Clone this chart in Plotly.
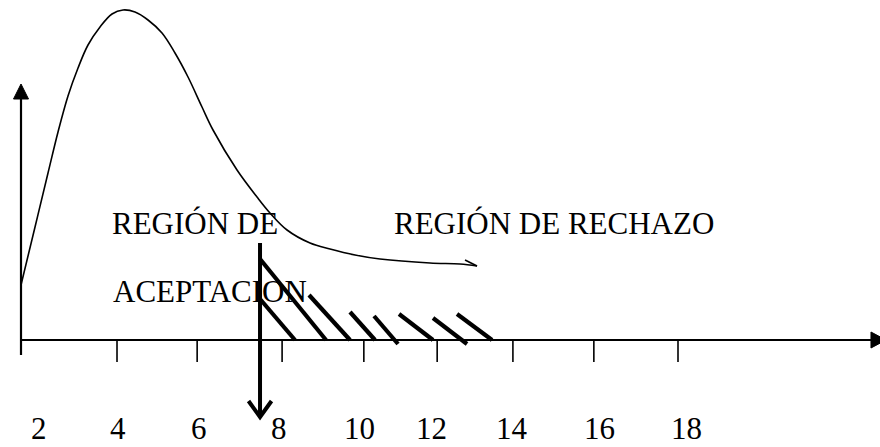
import plotly.graph_objects as go

# ---- data (x in scale units, y in density units, axis at y=0)
curve_x = [1.604, 1.954, 2.278, 2.528, 2.777, 3.027, 3.276, 3.576, 3.875, 4.150,
           4.449, 4.774, 5.123, 5.447, 5.772, 6.121, 6.396, 6.995, 7.494,
           7.818, 8.243, 8.817, 9.316, 9.940, 10.564, 11.811, 12.560, 12.984]
curve_y = [0.055, 0.113, 0.167, 0.208, 0.244, 0.272, 0.295, 0.313, 0.326, 0.330,
           0.328, 0.320, 0.307, 0.287, 0.263, 0.233, 0.210, 0.170, 0.143,
           0.127, 0.110, 0.097, 0.091, 0.085, 0.081, 0.077, 0.076, 0.074]
hook_x = [12.685, 12.984]
hook_y = [0.080, 0.074]

hatch_x0 = [7.569, 7.569, 8.792, 9.815, 10.414, 11.038, 11.886, 12.485]
hatch_y0 = [0.081, 0.041, 0.045, 0.028, 0.024, 0.026, 0.022, 0.026]
hatch_x1 = [9.216, 8.442, 9.815, 10.439, 11.013, 11.886, 12.735, 13.359]
hatch_y1 = [0.000, 0.000, 0.000, 0.000, -0.004, 0.000, -0.004, 0.000]

critical_x = 7.569
critical_top = 0.097
critical_bottom = -0.077

tick_pos = [4.0, 6.0, 8.12, 10.16, 11.99, 13.88, 15.90, 18.0]
tick_labels = ["2", "4", "6", "8", "10", "12", "14", "16", "18"]
label_pos = [2.05, 4.02, 6.05, 8.04, 10.06, 11.86, 13.86, 16.05, 18.22]

origin_x = 1.604
axis_end_x = 23.19
axis_top_y = 0.256
axis_bottom_y = -0.015

# ---- geometry helpers (pixel scale of the canvas)
X0, X1 = 1.080, 23.041
Y0, Y1 = -0.107, 0.340
W, H = 880, 447
ux = (X1 - X0) / W   # x units per pixel
uy = (Y1 - Y0) / H   # y units per pixel

FONT = "Liberation Serif, Times New Roman, serif"
BLACK = "#000000"

fig = go.Figure()

def seg_trace(xs0, ys0, xs1, ys1, width):
    xs, ys = [], []
    for a, b, c, d in zip(xs0, ys0, xs1, ys1):
        xs += [a, c, None]
        ys += [b, d, None]
    return go.Scatter(x=xs, y=ys, mode="lines", line=dict(color=BLACK, width=width),
                      hoverinfo="skip", showlegend=False)

# axes lines
fig.add_trace(seg_trace([origin_x, origin_x], [0, axis_bottom_y],
                        [axis_end_x - 15 * ux, origin_x], [0, axis_top_y - 15 * uy], 2.2))
# arrowheads (filled)
fig.add_trace(go.Scatter(
    x=[origin_x - 7.5 * ux, origin_x, origin_x + 7.5 * ux, origin_x - 7.5 * ux],
    y=[axis_top_y - 15 * uy, axis_top_y, axis_top_y - 15 * uy, axis_top_y - 15 * uy],
    fill="toself", fillcolor=BLACK, mode="lines", line=dict(color=BLACK, width=1),
    hoverinfo="skip", showlegend=False))
fig.add_trace(go.Scatter(
    x=[axis_end_x - 15 * ux, axis_end_x, axis_end_x - 15 * ux, axis_end_x - 15 * ux],
    y=[8 * uy, 0, -8 * uy, 8 * uy],
    fill="toself", fillcolor=BLACK, mode="lines", line=dict(color=BLACK, width=1),
    hoverinfo="skip", showlegend=False))

# ticks
fig.add_trace(seg_trace(tick_pos, [0] * len(tick_pos), tick_pos,
                        [-22 * uy] * len(tick_pos), 1.6))

# curve
fig.add_trace(go.Scatter(x=curve_x, y=curve_y, mode="lines",
                         line=dict(color=BLACK, width=1.6, shape="spline", smoothing=1.0),
                         hoverinfo="skip", showlegend=False))
fig.add_trace(go.Scatter(x=hook_x, y=hook_y, mode="lines",
                         line=dict(color=BLACK, width=1.6),
                         hoverinfo="skip", showlegend=False))

# hatching of rejection region
fig.add_trace(seg_trace(hatch_x0, hatch_y0, hatch_x1, hatch_y1, 4.2))

# critical value line with open arrow
fig.add_trace(seg_trace([critical_x], [critical_top], [critical_x], [critical_bottom], 4))
fig.add_trace(go.Scatter(
    x=[critical_x - 11.5 * ux, critical_x, critical_x + 11.5 * ux],
    y=[critical_bottom + 16 * uy, critical_bottom, critical_bottom + 16 * uy],
    mode="lines", line=dict(color=BLACK, width=4),
    hoverinfo="skip", showlegend=False))

# texts
texts = [("REGIÓN DE", 3.825, 0.117), ("ACEPTACION", 3.85, 0.049),
         ("REGIÓN DE RECHAZO", 10.863, 0.117)]
for t, x, y in texts:
    fig.add_annotation(x=x, y=y, text=t, showarrow=False, xanchor="left",
                       yanchor="middle", font=dict(family=FONT, size=31, color=BLACK))
for t, x in zip(tick_labels, label_pos):
    fig.add_annotation(x=x, y=-0.088, text=t, showarrow=False, xanchor="center",
                       yanchor="middle", font=dict(family=FONT, size=31, color=BLACK))

fig.update_layout(
    width=W, height=H, margin=dict(l=0, r=0, t=0, b=0),
    paper_bgcolor="white", plot_bgcolor="white",
    xaxis=dict(range=[X0, X1], visible=False, fixedrange=True),
    yaxis=dict(range=[Y0, Y1], visible=False, fixedrange=True),
)
fig.write_html("out.html", config={"displayModeBar": False},
               post_script="document.body.style.margin='0';document.body.style.overflow='hidden';")
